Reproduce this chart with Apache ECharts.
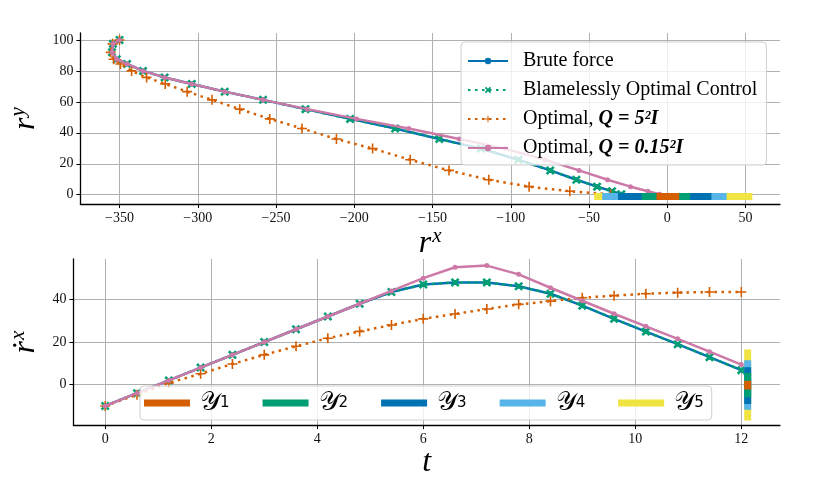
<!DOCTYPE html>
<html><head><meta charset="utf-8">
<script src="https://cdn.jsdelivr.net/npm/echarts@6/dist/echarts.min.js"></script>
<style>html,body{margin:0;padding:0;background:#fff}#c{width:827px;height:480px}</style>
</head><body><div id="c"></div>
<script>
// time samples (s)
const tVals = [0, 0.6, 1.2, 1.8, 2.4, 3.0, 3.6, 4.2, 4.8, 5.4, 6.0, 6.6, 7.2, 7.8, 8.4, 9.0, 9.6, 10.2, 10.8, 11.4, 12.0];
// velocity r-dot^x
const bruteVx  = [-10, -4, 2, 8, 14, 20, 26, 32, 38, 43.5, 47, 48, 48, 46.2, 42.7, 37.1, 30.9, 24.9, 19, 12.9, 6.8];
const bocVx    = [-10, -4, 2, 8, 14, 20, 26, 32, 38, 43.5, 47, 48, 48, 46.2, 42.7, 37.1, 30.9, 24.9, 19, 12.9, 6.8];
const opt5Vx   = [-10, -4.7, 0.8, 5.1, 9.7, 14, 18, 21.8, 25, 28, 30.9, 33.2, 35.5, 37.7, 39.2, 40.8, 41.8, 42.7, 43.2, 43.5, 43.5];
const opt015Vx = [-10, -4, 2, 8, 14, 20, 26, 32, 38, 44, 50, 55.1, 55.9, 51.8, 45.5, 39.4, 33.3, 27.4, 21.5, 15.5, 9.4];
// positions r^x
const bruteRx  = [-350, -354.2, -354.8, -351.8, -345.2, -335, -321.2, -303.8, -282.8, -258.3, -231.2, -202.7, -173.9, -145.7, -119.1, -95.2, -74.8, -58.1, -44.9, -35.3, -29.4];
const bocRx    = [-350, -354.2, -354.8, -351.8, -345.2, -335, -321.2, -303.8, -282.8, -258.3, -231.2, -202.7, -173.9, -145.7, -119.1, -95.2, -74.8, -58.1, -44.9, -35.3, -29.4];
const opt5Rx   = [-350, -354.4, -355.6, -353.8, -349.4, -342.3, -332.7, -320.8, -306.8, -290.9, -273.2, -254, -233.4, -211.4, -188.3, -164.3, -139.5, -114.1, -88.3, -62.3, -36.2];
const opt015Rx = [-350, -354.2, -354.8, -351.8, -345.2, -335, -321.2, -303.8, -282.8, -258.2, -230, -198.5, -165.2, -132.9, -103.7, -78.2, -56.4, -38.2, -23.5, -12.4, -4.9];
// positions r^y (shared by all controllers)
const posRy    = [100, 97.5, 92, 87.5, 84.5, 80, 75.8, 71.6, 66.6, 61.3, 55.3, 49, 42.8, 36, 29.8, 22.6, 15.7, 9.7, 5.2, 2.2, 0.3];
// sets Y1..Y5
const setNames  = ['Y1', 'Y2', 'Y3', 'Y4', 'Y5'];
const setTopLo  = [-6.9, -16.4, -31.5, -41.6, -46.7];
const setTopHi  = [7.6, 14.5, 28.2, 37.9, 54.3];
const setBotLo  = [-2.3, -5.9, -9.1, -11.8, -16.8];
const setBotHi  = [1.8, 5.5, 8.2, 11.4, 16.5];
const setTopY = -1.1;   // r^y where the set strip is drawn
const setBotT = 12.12;  // t where the set strip is drawn
// ticks
const topXTicks = [-350, -300, -250, -200, -150, -100, -50, 0, 50];
const topYTicks = [0, 20, 40, 60, 80, 100];
const botXTicks = [0, 2, 4, 6, 8, 10, 12];
const botYTicks = [0, 20, 40];

const seriesNames = ['Brute force', 'Blamelessly Optimal Control', 'Optimal, Q = 5^2 I', 'Optimal, Q = 0.15^2 I'];
const setColors = ['#D55E00', '#009E73', '#0072B2', '#56B4E9', '#F0E442'];

const SERIF = 'Liberation Serif';
const fmt = v => v < 0 ? '\u2212' + Math.abs(v) : String(v);
function axis(gridIndex, min, max, ticks, extra) {
  return Object.assign({
    type: 'value', gridIndex, min, max,
    axisLine: {show: true, onZero: false, lineStyle: {color: '#000', width: 1.3}},
    axisTick: {show: true, customValues: ticks, length: 4, lineStyle: {color: '#000', width: 1}},
    axisLabel: {customValues: ticks, formatter: fmt, fontFamily: SERIF, fontSize: 14, color: '#111', margin: 7},
    splitLine: {show: true, lineStyle: {color: '#b0b0b0', width: 1}}
  }, extra);
}
const nameRich = {
  i: {fontFamily: SERIF, fontStyle: 'italic', fontSize: 32, color: '#000'},
  s: {fontFamily: SERIF, fontStyle: 'italic', fontSize: 21, color: '#000', padding: [0, 0, 14, 1]}
};
const X_PATH = 'path://M2,0 L5,3 L8,0 L10,2 L7,5 L10,8 L8,10 L5,7 L2,10 L0,8 L3,5 L0,2 Z';
const PLUS_PATH = 'path://M4.2,0 H5.8 V4.2 H10 V5.8 H5.8 V10 H4.2 V5.8 H0 V4.2 H4.2 Z';
const styles = [
  {color: '#0072B2', type: 'solid', symbol: 'circle', size: 5},
  {color: '#009E73', type: [2.5, 4.5], symbol: X_PATH, size: 9},
  {color: '#D55E00', type: [2.5, 4.5], symbol: PLUS_PATH, size: 10},
  {color: '#CC79A7', type: 'solid', symbol: 'circle', size: 5}
];
const topX = [bruteRx, bocRx, opt5Rx, opt015Rx];
const botV = [bruteVx, bocVx, opt5Vx, opt015Vx];

const series = [];
for (let k = 0; k < 4; k++) {
  const st = styles[k];
  const common = {
    type: 'line', name: seriesNames[k], symbol: st.symbol, symbolSize: st.size, showSymbol: true,
    lineStyle: {color: st.color, width: 2.5, type: st.type},
    itemStyle: {color: st.color}, z: 2 + k * 0.01, animation: false, silent: true
  };
  series.push(Object.assign({}, common, {xAxisIndex: 0, yAxisIndex: 0, data: topX[k].map((x, i) => [x, posRy[i]])}));
  series.push(Object.assign({}, common, {xAxisIndex: 1, yAxisIndex: 1, data: botV[k].map((v, i) => [tVals[i], v])}));
}
for (let i = 4; i >= 0; i--) {
  const c = setColors[i];
  const common = {type: 'line', name: setNames[i], symbol: 'none', lineStyle: {color: c, width: 7, cap: 'butt'},
    itemStyle: {color: c}, z: 3, animation: false, silent: true};
  series.push(Object.assign({}, common, {xAxisIndex: 0, yAxisIndex: 0, data: [[setTopLo[i], setTopY], [setTopHi[i], setTopY]]}));
  series.push(Object.assign({}, common, {xAxisIndex: 1, yAxisIndex: 1, data: [[setBotT, setBotLo[i]], [setBotT, setBotHi[i]]]}));
}

const legendFmt = {
  'Brute force': '{n|Brute force}',
  'Blamelessly Optimal Control': '{n|Blamelessly Optimal Control}',
  'Optimal, Q = 5^2 I': '{n|Optimal, }{m|Q = 5\u00B2I}',
  'Optimal, Q = 0.15^2 I': '{n|Optimal, }{m|Q = 0.15\u00B2I}'
};

const option = {
  backgroundColor: '#fff',
  animation: false,
  grid: [
    {left: 71, top: 33, width: 709, height: 171},
    {left: 71, top: 259, width: 709, height: 172}
  ],
  xAxis: [
    axis(0, -375, 72, topXTicks, {name: '{i|r}{s|x}', nameLocation: 'middle', nameGap: 19, nameTextStyle: {rich: nameRich}}),
    axis(1, -0.6, 12.73, botXTicks, {name: '{i|t}', nameLocation: 'middle', nameGap: 21, nameTextStyle: {rich: nameRich}})
  ],
  yAxis: [
    axis(0, -6, 104.5, topYTicks, {name: '{i|r}{s|y}', nameLocation: 'middle', nameGap: 34, nameTextStyle: {rich: nameRich}}),
    axis(1, -19, 59, botYTicks, {name: '{i|\u1E59}{s|x}', nameLocation: 'middle', nameGap: 30, nameTextStyle: {rich: nameRich}})
  ],
  legend: [
    {
      data: seriesNames, orient: 'vertical', left: 461, top: 42,
      padding: [9, 9, 7, 6], itemGap: 9, itemWidth: 40, itemHeight: 8,
      backgroundColor: 'rgba(255,255,255,0.8)', borderColor: '#d0d0d0', borderWidth: 1, borderRadius: 4,
      formatter: n => legendFmt[n],
      textStyle: {padding: [0, 0, 0, 10], rich: {
        n: {fontFamily: SERIF, fontSize: 20, color: '#000', lineHeight: 21},
        m: {fontFamily: SERIF, fontSize: 20, fontWeight: 'bold', fontStyle: 'italic', color: '#000', lineHeight: 21}
      }},
      selectedMode: false
    },
    {
      data: setNames, orient: 'horizontal', left: 140, top: 386,
      padding: [4, 8, 4, 4], itemGap: 33, itemWidth: 46, itemHeight: 7, icon: 'rect',
      backgroundColor: 'rgba(255,255,255,0.8)', borderColor: '#d0d0d0', borderWidth: 1, borderRadius: 4,
      formatter: n => '{y|\uD835\uDCB4}{s|' + n.slice(1) + '}',
      textStyle: {padding: [0, 0, 0, 5], rich: {
        y: {fontFamily: SERIF, fontSize: 26, color: '#000', lineHeight: 26},
        s: {fontFamily: 'DejaVu Sans', fontSize: 15, color: '#000', lineHeight: 26}
      }},
      selectedMode: false
    }
  ],
  series
};
const chart = echarts.init(document.getElementById('c'));
chart.setOption(option);
</script></body></html>
